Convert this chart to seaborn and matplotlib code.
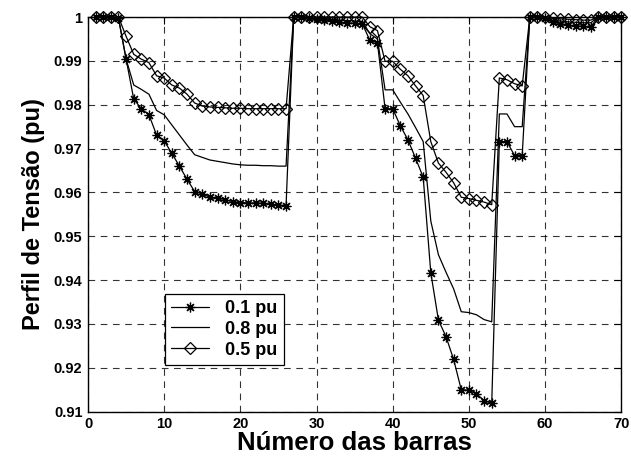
import numpy as np
import pandas as pd
import matplotlib
matplotlib.use("Agg")
import matplotlib.pyplot as plt
import seaborn as sns

buses = list(range(1, 71))

v_01 = [1.0, 1.0, 1.0, 0.9997, 0.9904, 0.9813, 0.9791, 0.9777, 0.9731, 0.9718,
        0.9689, 0.9660, 0.9630, 0.9602, 0.9597, 0.9589, 0.9588, 0.9583, 0.9579, 0.9577,
        0.9576, 0.9576, 0.9575, 0.9573, 0.9571, 0.9570,
        1.0, 0.9999, 0.9998, 0.9996, 0.9994, 0.9991, 0.9988, 0.9987, 0.9986, 0.9985,
        0.9947, 0.9941, 0.9791, 0.9791, 0.9752, 0.9720, 0.9678, 0.9635, 0.9417, 0.9309,
        0.9271, 0.9219, 0.9150, 0.9149, 0.9141, 0.9125, 0.9119, 0.9716, 0.9716, 0.9684,
        0.9684, 1.0, 0.9999, 0.9997, 0.9988, 0.9985, 0.9982, 0.9980, 0.9979, 0.9978,
        1.0, 1.0, 1.0, 1.0]

v_08 = [1.0, 1.0, 1.0, 0.9998, 0.9904, 0.9845, 0.9835, 0.9824, 0.9787, 0.9777,
        0.9754, 0.9731, 0.9708, 0.9686, 0.9680, 0.9674, 0.9671, 0.9668, 0.9665, 0.9663,
        0.9662, 0.9662, 0.9661, 0.9661, 0.9660, 0.9660,
        1.0, 1.0, 0.9999, 0.9998, 0.9997, 0.9995, 0.9993, 0.9992, 0.9991, 0.9990,
        0.9962, 0.9950, 0.9834, 0.9834, 0.9806, 0.9779, 0.9748, 0.9716, 0.9535, 0.9458,
        0.9418, 0.9380, 0.9328, 0.9326, 0.9321, 0.9310, 0.9305, 0.9779, 0.9779, 0.9750,
        0.9750, 1.0, 1.0, 0.9998, 0.9993, 0.9991, 0.9989, 0.9988, 0.9987, 0.9987,
        1.0, 1.0, 1.0, 1.0]

v_05 = [1.0, 1.0, 1.0, 1.0, 0.9956, 0.9915, 0.9904, 0.9896, 0.9866, 0.9861,
        0.9845, 0.9838, 0.9824, 0.9804, 0.9797, 0.9795, 0.9794, 0.9793, 0.9792, 0.9792,
        0.9791, 0.9791, 0.9791, 0.9791, 0.9791, 0.9791,
        1.0, 1.0, 1.0, 1.0, 1.0, 1.0, 1.0, 1.0, 1.0, 1.0,
        0.9978, 0.9969, 0.9899, 0.9899, 0.9881, 0.9866, 0.9843, 0.9821, 0.9716, 0.9667,
        0.9646, 0.9622, 0.9589, 0.9586, 0.9582, 0.9578, 0.9572, 0.9861, 0.9857, 0.9848,
        0.9843, 1.0, 1.0, 1.0, 0.9997, 0.9996, 0.9995, 0.9994, 0.9993, 0.9993,
        1.0, 1.0, 1.0, 1.0]

series_labels = ["0.1 pu", "0.8 pu", "0.5 pu"]
x_ticks = [0, 10, 20, 30, 40, 50, 60, 70]
y_ticks = [0.91, 0.92, 0.93, 0.94, 0.95, 0.96, 0.97, 0.98, 0.99, 1.0]
y_tick_labels = ["0.91", "0.92", "0.93", "0.94", "0.95", "0.96", "0.97", "0.98", "0.99", "1"]

sns.set_style("white")
plt.rcParams['font.family'] = ['Liberation Sans', 'DejaVu Sans']
plt.rcParams['text.color'] = 'black'
plt.rcParams['axes.labelcolor'] = 'black'
plt.rcParams['xtick.color'] = 'black'
plt.rcParams['ytick.color'] = 'black'

fig = plt.figure(figsize=(6.31, 4.61), dpi=100)
ax = fig.add_axes([0.1395, 0.107, 0.845, 0.856])

df = pd.DataFrame({"bus": buses, "v01": v_01, "v08": v_08, "v05": v_05})

sns.lineplot(data=df, x="bus", y="v01", ax=ax, color="black", lw=0.9,
             marker=(8, 2, 0), markersize=7, markeredgewidth=0.9,
             markeredgecolor="black", label=series_labels[0], clip_on=False)
sns.lineplot(data=df, x="bus", y="v08", ax=ax, color="black", lw=0.9,
             label=series_labels[1], clip_on=False)
sns.lineplot(data=df, x="bus", y="v05", ax=ax, color="black", lw=0.9,
             marker="D", markersize=6, markerfacecolor="none",
             markeredgecolor="black", markeredgewidth=0.9,
             label=series_labels[2], clip_on=False)

ax.set_xlim(0, 70)
ax.set_ylim(0.91, 1.0)
ax.set_xticks(x_ticks)
ax.set_xticklabels([str(t) for t in x_ticks])
ax.set_yticks(y_ticks)
ax.set_yticklabels(y_tick_labels)

ax.grid(True, color="black", linestyle=(0, (6, 5)), linewidth=0.8, alpha=0.8)
for s in ax.spines.values():
    s.set_color("black")
    s.set_linewidth(1.0)
ax.tick_params(direction="in", length=5, width=0.8, top=True, right=True,
               labelsize=10.5, pad=4, colors="black")
for lab in ax.get_xticklabels() + ax.get_yticklabels():
    lab.set_fontweight("bold")

ax.set_xlabel("Número das barras", fontsize=18.5, fontweight="bold", labelpad=0,
              color="black")
ax.set_ylabel("Perfil de Tensão (pu)", fontsize=17, fontweight="bold", labelpad=6,
              color="black")

leg = ax.legend(loc="lower left", bbox_to_anchor=(0.144, 0.118), borderaxespad=0,
                fancybox=False, edgecolor="black", framealpha=1, handlelength=2.1,
                handletextpad=0.9, prop={"weight": "bold", "size": 13},
                borderpad=0.35, labelspacing=0.22)
leg.get_frame().set_linewidth(0.9)
for t in leg.get_texts():
    t.set_color("black")

fig.savefig("out.png", dpi=100)
